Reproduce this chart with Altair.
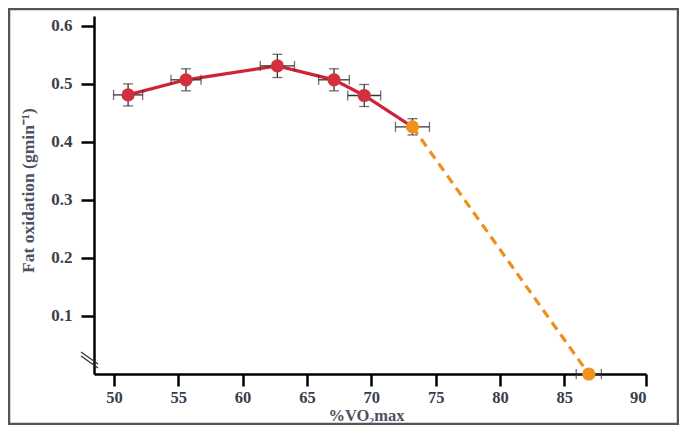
import altair as alt
import pandas as pd

# Data
vo2 = [51.1, 55.6, 62.7, 67.1, 69.45, 73.2, 86.5]
fat = [0.481, 0.507, 0.531, 0.507, 0.480, 0.426, 0.0]
xerr = [1.13, 1.17, 1.33, 1.19, 1.28, 1.32, 0.77]
yerr = [0.019, 0.019, 0.020, 0.019, 0.019, 0.014, 0.0]
phase = ["low", "low", "low", "low", "low", "high", "high"]
x_ticks = [50, 55, 60, 65, 70, 75, 80, 85, 90]
y_ticks = [0.1, 0.2, 0.3, 0.4, 0.5, 0.6]

df = pd.DataFrame({"x": vo2, "y": fat, "xerr": xerr, "yerr": yerr, "phase": phase})
df["xlo"] = df["x"] - df["xerr"]
df["xhi"] = df["x"] + df["xerr"]
df["ylo"] = df["y"] - df["yerr"]
df["yhi"] = df["y"] + df["yerr"]
df["idx"] = range(len(df))

W, H = 552, 358
font = "Liberation Serif"
label_color = "#3a3e4a"
title_color = "#4b5262"

xscale = alt.Scale(domain=[48.45, 85, 90], range=[0, 470.3, W], nice=False, zero=False)
yscale = alt.Scale(domain=[0, 0.617], nice=False, zero=False)

xaxis = alt.Axis(values=x_ticks, title="%VO₂max", grid=False, domainColor="black",
                 domainWidth=2.5, tickColor="black", tickWidth=2.5, tickSize=12,
                 labelFont=font, labelFontSize=16.5, labelFontWeight="bold",
                 labelColor=label_color, labelPadding=3,
                 titleFont=font, titleFontSize=16.5, titleFontWeight="bold",
                 titleColor=title_color, titleX=272, titleY=41,
                 titleAlign="center", titleBaseline="middle")
yaxis = alt.Axis(values=y_ticks, format=".1f", title="Fat oxidation (gmin⁻¹)", grid=False,
                 domainColor="black", domainWidth=2.5, tickColor="black",
                 tickWidth=2.5, tickSize=13, labelFont=font, labelFontSize=17,
                 labelFontWeight="bold", labelColor=label_color, labelPadding=9,
                 titleFont=font, titleFontSize=17.5, titleFontWeight="bold",
                 titleColor=title_color, titleX=-66, titleY=174, titleAngle=-90,
                 titleAlign="center", titleBaseline="middle")

base = alt.Chart(df)

red_line = base.transform_filter("datum.idx <= 5").mark_line(
    color="#cf2436", strokeWidth=3.2).encode(
    x=alt.X("x:Q", scale=xscale, axis=xaxis), y=alt.Y("y:Q", scale=yscale, axis=yaxis),
    order="idx:Q")

orange_line = base.transform_filter("datum.idx >= 5").mark_line(
    color="#ee8f1c", strokeWidth=3.2, strokeDash=[9, 6]).encode(
    x=alt.X("x:Q", scale=xscale), y=alt.Y("y:Q", scale=yscale), order="idx:Q")

err_color = "#333333"
xbar = base.mark_rule(color=err_color, strokeWidth=1.3).encode(
    x=alt.X("xlo:Q", scale=xscale), x2="xhi:Q", y=alt.Y("y:Q", scale=yscale))
ybar = base.transform_filter("datum.yerr > 0").mark_rule(color=err_color, strokeWidth=1.3).encode(
    x=alt.X("x:Q", scale=xscale), y=alt.Y("ylo:Q", scale=yscale), y2="yhi:Q")
xcap_lo = base.mark_tick(color=err_color, orient="vertical", size=10, thickness=1.3).encode(
    x=alt.X("xlo:Q", scale=xscale), y=alt.Y("y:Q", scale=yscale))
xcap_hi = base.mark_tick(color=err_color, orient="vertical", size=10, thickness=1.3).encode(
    x=alt.X("xhi:Q", scale=xscale), y=alt.Y("y:Q", scale=yscale))
ycap_lo = base.transform_filter("datum.yerr > 0").mark_tick(
    color=err_color, orient="horizontal", size=10, thickness=1.3).encode(
    x=alt.X("x:Q", scale=xscale), y=alt.Y("ylo:Q", scale=yscale))
ycap_hi = base.transform_filter("datum.yerr > 0").mark_tick(
    color=err_color, orient="horizontal", size=10, thickness=1.3).encode(
    x=alt.X("x:Q", scale=xscale), y=alt.Y("yhi:Q", scale=yscale))

points = base.mark_point(filled=True, size=175, opacity=1).encode(
    x=alt.X("x:Q", scale=xscale), y=alt.Y("y:Q", scale=yscale),
    color=alt.Color("phase:N", scale=alt.Scale(domain=["low", "high"],
                                               range=["#d3303f", "#f0921e"]), legend=None))

# axis break marks
brk1 = alt.Chart(pd.DataFrame({"a": [0]})).mark_rule(color="#333", strokeWidth=1.3).encode(
    x=alt.value(-13), x2=alt.value(4), y=alt.value(336), y2=alt.value(348))
brk2 = alt.Chart(pd.DataFrame({"a": [0]})).mark_rule(color="#333", strokeWidth=1.3).encode(
    x=alt.value(-13), x2=alt.value(4), y=alt.value(340), y2=alt.value(352))

# outer frame
frame = alt.Chart(pd.DataFrame({"a": [0]})).mark_rect(
    fill=None, stroke="#555555", strokeWidth=2.5).encode(
    x=alt.value(-85), x2=alt.value(W + 32), y=alt.value(-7), y2=alt.value(H + 50))

chart = alt.layer(red_line, orange_line, xbar, ybar, xcap_lo, xcap_hi, ycap_lo, ycap_hi,
                  points, brk1, brk2, frame).properties(
    width=W, height=H,
    autosize=alt.AutoSizeParams(type="none"),
    padding={"left": 86, "top": 8, "right": 33, "bottom": 51},
    background="white",
).configure_view(stroke=None)

chart.save("out.html", embed_options={"renderer": "svg", "actions": False})
